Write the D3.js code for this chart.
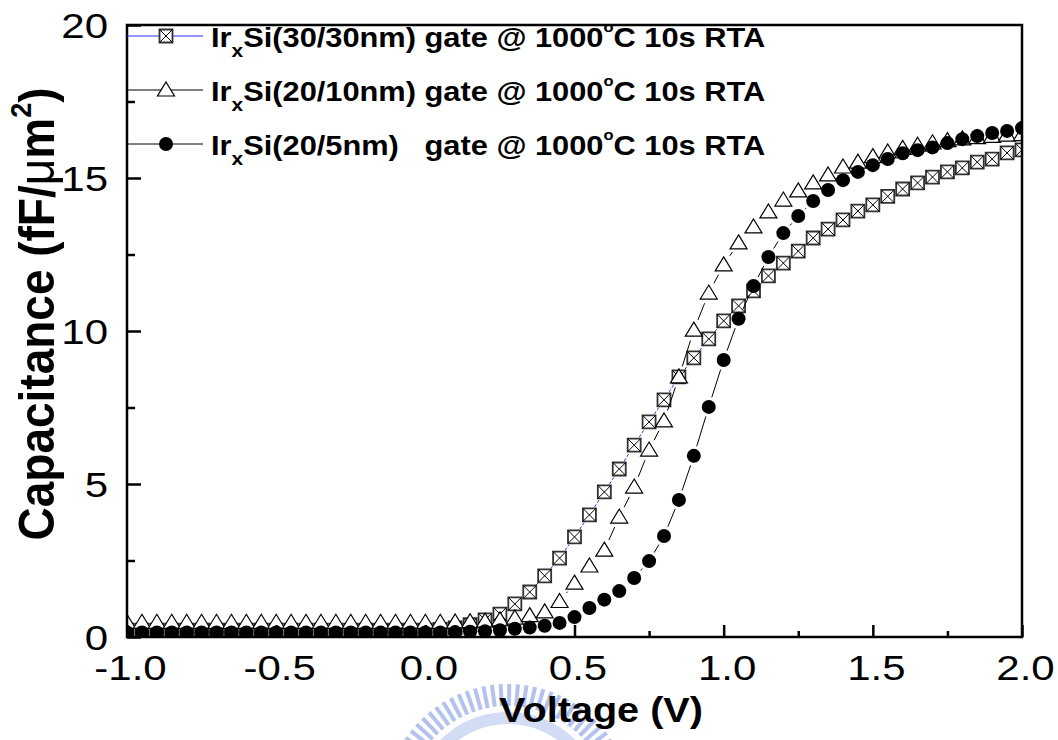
<!DOCTYPE html>
<html>
<head>
<meta charset="utf-8">
<script src="https://cdn.jsdelivr.net/npm/d3@7"></script>
<style>
body { margin: 0; background: #fff; }
text { font-family: "Liberation Sans", Arial, sans-serif; }
</style>
</head>
<body>
<svg id="chart"></svg>
<script>
// gate voltage (V), one reading every 50 mV
const voltage = [
  -1.00, -0.95, -0.90, -0.85, -0.80, -0.75, -0.70, -0.65, -0.60, -0.55,
  -0.50, -0.45, -0.40, -0.35, -0.30, -0.25, -0.20, -0.15, -0.10, -0.05,
   0.00,  0.05,  0.10,  0.15,  0.20,  0.25,  0.30,  0.35,  0.40,  0.45,
   0.50,  0.55,  0.60,  0.65,  0.70,  0.75,  0.80,  0.85,  0.90,  0.95,
   1.00,  1.05,  1.10,  1.15,  1.20,  1.25,  1.30,  1.35,  1.40,  1.45,
   1.50,  1.55,  1.60,  1.65,  1.70,  1.75,  1.80,  1.85,  1.90,  1.95,
   2.00
];

// capacitance (fF/um^2)
const irsi3030 = [
  0.22, 0.22, 0.22, 0.22, 0.22, 0.22, 0.22, 0.22, 0.22, 0.22,
  0.22, 0.22, 0.22, 0.22, 0.22, 0.22, 0.22, 0.22, 0.22, 0.22,
  0.22, 0.25, 0.30, 0.40, 0.56, 0.75, 1.08, 1.47, 2.00, 2.58,
  3.27, 3.99, 4.74, 5.49, 6.27, 7.03, 7.75, 8.50, 9.12, 9.74,
  10.33, 10.82, 11.31, 11.80, 12.22, 12.61, 13.04, 13.33, 13.63, 13.92,
  14.12, 14.40, 14.64, 14.84, 15.03, 15.20, 15.33, 15.52, 15.62, 15.82,
  15.92
];
const irsi2010 = [
  0.48, 0.48, 0.48, 0.48, 0.48, 0.48, 0.48, 0.48, 0.48, 0.48,
  0.48, 0.48, 0.48, 0.48, 0.48, 0.48, 0.48, 0.48, 0.48, 0.48,
  0.48, 0.48, 0.49, 0.50, 0.52, 0.56, 0.62, 0.70, 0.82, 1.16,
  1.76, 2.32, 2.84, 3.92, 4.90, 6.11, 7.06, 8.50, 10.03, 11.24,
  12.16, 12.88, 13.40, 13.89, 14.28, 14.58, 14.84, 15.10, 15.36, 15.52,
  15.70, 15.85, 15.97, 16.07, 16.15, 16.22, 16.28, 16.32, 16.36, 16.40,
  16.42
];
const irsi205 = [
  0.15, 0.15, 0.15, 0.15, 0.15, 0.15, 0.15, 0.15, 0.15, 0.15,
  0.15, 0.15, 0.15, 0.15, 0.15, 0.15, 0.15, 0.15, 0.15, 0.15,
  0.15, 0.15, 0.16, 0.17, 0.19, 0.22, 0.27, 0.31, 0.37, 0.46,
  0.65, 0.95, 1.22, 1.50, 1.93, 2.48, 3.30, 4.48, 5.92, 7.52,
  9.05, 10.40, 11.47, 12.42, 13.20, 13.76, 14.25, 14.61, 14.93, 15.20,
  15.42, 15.62, 15.81, 15.91, 16.00, 16.14, 16.27, 16.37, 16.47, 16.54,
  16.63
];

const xTicks = [-1.0, -0.5, 0.0, 0.5, 1.0, 1.5, 2.0];
const xMinor = [-0.75, -0.25, 0.25, 0.75, 1.25, 1.75];
const yTicks = [0, 5, 10, 15, 20];
const yMinor = [2.5, 7.5, 12.5, 17.5];

const legendNames = ["Si(30/30nm) gate @ 1000", "Si(20/10nm) gate @ 1000", "Si(20/5nm)   gate @ 1000"];

const width = 1058, height = 740;
const plot = { left: 127, right: 1022, top: 25, bottom: 637 };

const x = d3.scaleLinear().domain([-1, 2]).range([plot.left, plot.right]);
const y = d3.scaleLinear().domain([0, 20]).range([plot.bottom, plot.top]);

const svg = d3.select("#chart").attr("width", width).attr("height", height);
svg.append("rect").attr("width", width).attr("height", height).attr("fill", "#fff");

// faint logo watermark behind the x title
const wm = svg.append("g").attr("transform", "translate(508,808)");
wm.append("path")
  .attr("d", d3.arc().innerRadius(84).outerRadius(96).startAngle(-1.2).endAngle(1.15)())
  .attr("fill", "#d3dcf5");
d3.range(-1.25, 1.2, 0.07).forEach(a => {
  wm.append("line")
    .attr("x1", 102 * Math.sin(a)).attr("y1", -102 * Math.cos(a))
    .attr("x2", 124 * Math.sin(a)).attr("y2", -124 * Math.cos(a))
    .attr("stroke", "#b3c3ee").attr("stroke-width", 4);
});

// symbols
const sqPath = "M-6.5,-6.5h13v13h-13z";
const sqCross = "M-6.5,-6.5L6.5,6.5M6.5,-6.5L-6.5,6.5";
const triPath = "M0,-8L8.5,6L-8.5,6Z";

function drawMarker(g, type, cx, cy) {
  const m = g.append("g").attr("transform", `translate(${cx},${cy})`);
  if (type === "square") {
    m.append("path").attr("d", sqPath).attr("fill", "#fff").attr("stroke", "#333").attr("stroke-width", 1.8);
    m.append("path").attr("d", sqCross).attr("fill", "none").attr("stroke", "#000").attr("stroke-width", 1);
  } else if (type === "triangle") {
    m.append("path").attr("d", triPath).attr("fill", "#fff").attr("stroke", "#000").attr("stroke-width", 1.2);
  } else {
    m.append("circle").attr("r", 7).attr("fill", "#000");
  }
}

const series = [
  { values: irsi3030, type: "square", line: "#2b2bff", gap: 9.5, dash: "3,2" },
  { values: irsi2010, type: "triangle", line: "#000", gap: 11, dash: null },
  { values: irsi205, type: "circle", line: "#000", gap: 10, dash: null }
];

svg.append("defs").append("clipPath").attr("id", "clip")
  .append("rect")
  .attr("x", plot.left).attr("y", plot.top)
  .attr("width", plot.right - plot.left).attr("height", plot.bottom - plot.top);

const plotG = svg.append("g").attr("clip-path", "url(#clip)");

series.forEach(s => {
  const pts = voltage.map((v, i) => [x(v), y(s.values[i])]);
  // connecting line with a small gap round each symbol
  for (let i = 0; i < pts.length - 1; i++) {
    const [x1, y1] = pts[i], [x2, y2] = pts[i + 1];
    const len = Math.hypot(x2 - x1, y2 - y1);
    if (len <= 2 * s.gap + 1) continue;
    const ux = (x2 - x1) / len, uy = (y2 - y1) / len;
    plotG.append("line")
      .attr("x1", x1 + ux * s.gap).attr("y1", y1 + uy * s.gap)
      .attr("x2", x2 - ux * s.gap).attr("y2", y2 - uy * s.gap)
      .attr("stroke", s.line).attr("stroke-width", 1)
      .attr("stroke-dasharray", s.dash);
  }
  pts.forEach(p => drawMarker(plotG, s.type, p[0], p[1]));
});

// frame
svg.append("rect")
  .attr("x", plot.left).attr("y", plot.top)
  .attr("width", plot.right - plot.left).attr("height", plot.bottom - plot.top)
  .attr("fill", "none").attr("stroke", "#000").attr("stroke-width", 2.5);

// axes, ticks pointing inward
const gx = svg.append("g").attr("transform", `translate(0,${plot.bottom})`)
  .call(d3.axisBottom(x).tickValues(xTicks).tickSizeInner(-12).tickSizeOuter(0).tickFormat(d => d.toFixed(1)));
gx.select(".domain").remove();
gx.selectAll("line").attr("stroke", "#000").attr("stroke-width", 2.5);
gx.selectAll("text")
  .attr("font-size", 35).attr("fill", "#000")
  .attr("y", 43).attr("dy", null)
  .attr("transform", "translate(3,0) scale(1.2,1)");

const gxm = svg.append("g").attr("transform", `translate(0,${plot.bottom})`)
  .call(d3.axisBottom(x).tickValues(xMinor).tickSizeInner(-6).tickSizeOuter(0).tickFormat(""));
gxm.select(".domain").remove();
gxm.selectAll("line").attr("stroke", "#000").attr("stroke-width", 2.5);

const gy = svg.append("g").attr("transform", `translate(${plot.left},0)`)
  .call(d3.axisLeft(y).tickValues(yTicks).tickSizeInner(-14).tickSizeOuter(0));
gy.select(".domain").remove();
gy.selectAll("line").attr("stroke", "#000").attr("stroke-width", 2.5);
gy.selectAll("text")
  .attr("font-size", 35).attr("fill", "#000")
  .attr("x", -19 / 1.2).attr("dy", "0.36em")
  .attr("transform", "scale(1.2,1)");

const gym = svg.append("g").attr("transform", `translate(${plot.left},0)`)
  .call(d3.axisLeft(y).tickValues(yMinor).tickSizeInner(-8).tickSizeOuter(0).tickFormat(""));
gym.select(".domain").remove();
gym.selectAll("line").attr("stroke", "#000").attr("stroke-width", 2.5);

// legend
series.forEach((s, i) => {
  const cy = 36 + i * 54;
  const base = cy + 11;
  svg.append("line")
    .attr("x1", plot.left).attr("x2", 203).attr("y1", cy).attr("y2", cy)
    .attr("stroke", s.line).attr("stroke-width", 1);
  drawMarker(svg, s.type, 166, cy);
  const t = svg.append("text")
    .attr("transform", `translate(211,${base}) scale(1.1,1)`)
    .attr("font-size", 28).attr("font-weight", "bold").attr("fill", "#000")
    .style("white-space", "pre");
  t.append("tspan").text("Ir");
  t.append("tspan").attr("font-size", 19).attr("dy", 10).text("x");
  t.append("tspan").attr("dy", -10).text(legendNames[i]);
  t.append("tspan").attr("font-size", 15).attr("dy", -15).text("o");
  t.append("tspan").attr("dy", 15).text("C 10s RTA");
});

// axis titles
const yt = svg.append("text")
  .attr("transform", "translate(54,314) rotate(-90) scale(1,1.1)")
  .attr("text-anchor", "middle").attr("font-size", 46).attr("font-weight", "bold").attr("fill", "#000");
yt.append("tspan").text("Capacitance (fF/");
yt.append("tspan").attr("font-weight", "normal").text("\u03bc");
yt.append("tspan").text("m");
yt.append("tspan").attr("font-size", 27).attr("dy", -21).text("2");
yt.append("tspan").attr("dy", 21).text(")");

svg.append("text")
  .attr("transform", "translate(601,722) scale(1.1,1)")
  .attr("text-anchor", "middle").attr("font-size", 36).attr("font-weight", "bold").attr("fill", "#000")
  .text("Voltage (V)");
</script>
</body>
</html>
